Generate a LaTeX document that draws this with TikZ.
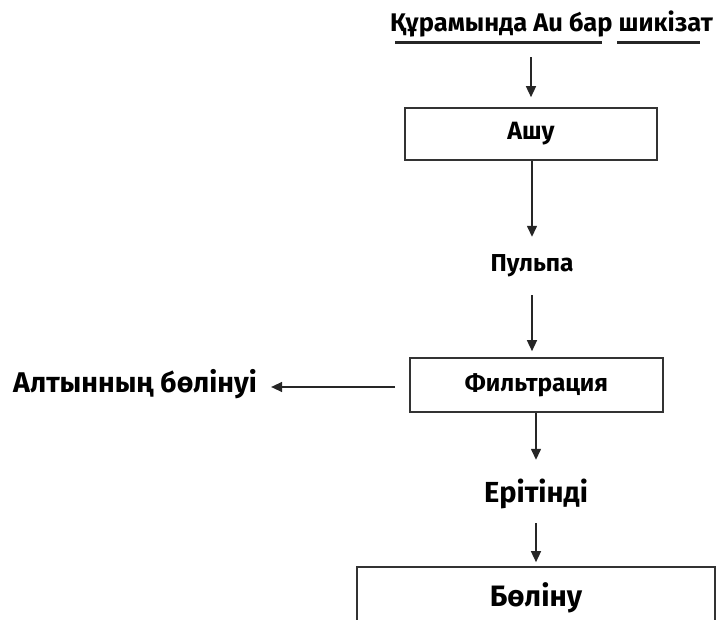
\documentclass[tikz,border=0pt]{standalone}
\usepackage{fontspec}
\setmainfont{Fira Sans}
\usetikzlibrary{arrows.meta}
\tikzset{
  arr/.style={draw=black!85, line width=1.4pt, -{Triangle[length=11pt,width=10pt]}},
  procbox/.style={draw=black!80, line width=1.6pt, inner sep=0pt, align=center},
  lbl/.style={inner sep=0pt, align=center},
  uline/.style={draw=black!85, line width=3pt}
}
\begin{document}
\begin{tikzpicture}[x=1pt,y=-1pt,font=\bfseries]
\useasboundingbox (0,0) rectangle (716,620);
\clip (0,0) rectangle (716,620);
% source text
\node[lbl, anchor=base, font=\bfseries\fontsize{25.5}{30}\selectfont, text depth=25pt] (src) at (551.5,32) {Құрамында Au бар шикізат};
\coordinate (u1a) at (395,42.5); \coordinate (u1b) at (602,42.5);
\coordinate (u2a) at (617,42.5); \coordinate (u2b) at (700,42.5);
\draw[uline] (u1a) -- (u1b);
\draw[uline] (u2a) -- (u2b);
% Ashu box
\node[procbox, anchor=base, minimum width=252pt, text height=32pt, text depth=20pt,
      font=\bfseries\fontsize{25}{30}\selectfont] (ashu) at (531,140) {Ашу};
\draw[arr, shorten >=10pt] (src.south -| ashu.north) -- (ashu.north);
% Pulpa
\node[lbl, anchor=base, text height=35pt, text depth=23pt,
      font=\bfseries\fontsize{24.5}{29}\selectfont] (pulpa) at (532,272) {Пульпа};
\draw[arr] (ashu.south -| pulpa.north) -- (pulpa.north);
% Filtration box
\node[procbox, anchor=base, minimum width=253pt, text height=34pt, text depth=20pt,
      font=\bfseries\fontsize{24.5}{29}\selectfont] (filt) at (536.5,392) {Фильтрация};
\draw[arr, shorten >=6pt] (pulpa.south) -- (pulpa.south |- filt.north);
% Gold separation
\node[lbl, anchor=base west, inner xsep=14pt, font=\bfseries\fontsize{28.5}{34}\selectfont] (altyn) at (-1,393) {Алтынның бөлінуі};
\coordinate (lstart) at (395,387);
\draw[arr] (lstart) -- (lstart -| altyn.east);
% Solution
\node[lbl, anchor=base, text height=43pt, text depth=20pt,
      font=\bfseries\fontsize{29}{35}\selectfont] (erit) at (536,503) {Ерітінді};
\draw[arr] (filt.south -| erit.north) -- (erit.north);
% Bolinu box
\node[procbox, anchor=base, minimum width=358pt, text height=40pt, text depth=40pt,
      font=\bfseries\fontsize{29.5}{35}\selectfont] (bol) at (536,607) {Бөліну};
\draw[arr, shorten >=4pt] (erit.south) -- (erit.south |- bol.north);
\end{tikzpicture}
\end{document}
